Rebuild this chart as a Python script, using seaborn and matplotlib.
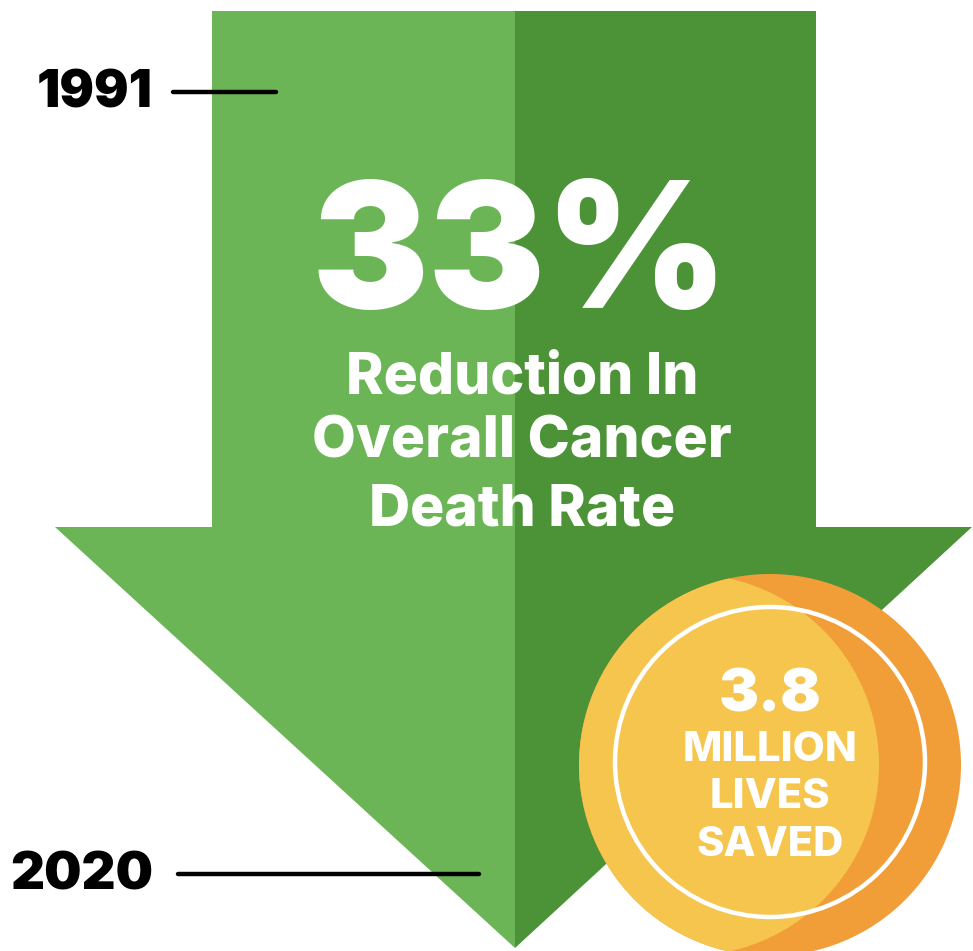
import matplotlib
matplotlib.use("Agg")
import matplotlib.pyplot as plt
from matplotlib.patches import Polygon, Circle
import seaborn as sns
import pandas as pd

# Headline figures
reduction_pct = 33
lives_saved_millions = 3.8
years = [1991, 2020]
headline_lines = ["Reduction In", "Overall Cancer", "Death Rate"]
coin_lines = ["MILLION", "LIVES", "SAVED"]

LIGHT_GREEN = "#6BB556"
DARK_GREEN = "#4C9338"
YELLOW = "#F6C54E"
ORANGE = "#F19E38"

sns.set_theme(style="white")
plt.rcParams["font.family"] = ["Inter", "DejaVu Sans"]

W, H = 973, 951
fig = plt.figure(figsize=(W / 100, H / 100), dpi=100)
ax = fig.add_axes([0, 0, 1, 1])

# Downward arrow: left (light) and right (dark) halves
mid_x, top_y, wing_y, tip_y = 515, 11, 527, 948
shaft_l, shaft_r = 212, 816
wing_l, wing_r = 55, 972
left_half = [(shaft_l, top_y), (mid_x, top_y), (mid_x, tip_y),
             (wing_l, wing_y), (shaft_l, wing_y)]
right_half = [(mid_x, top_y), (shaft_r, top_y), (shaft_r, wing_y),
              (wing_r, wing_y), (mid_x, tip_y)]
ax.add_patch(Polygon(left_half, closed=True, fc=LIGHT_GREEN, ec="none", zorder=1))
ax.add_patch(Polygon(right_half, closed=True, fc=DARK_GREEN, ec="none", zorder=1))

# Headline text
ax.text(520, 308, f"{reduction_pct}%", color="white", fontsize=126,
        fontweight=900, ha="center", va="baseline", zorder=3)
for line, base in zip(headline_lines, [393, 458, 525]):
    ax.text(522, base, line, color="white", fontsize=41,
            fontweight=800, ha="center", va="baseline", zorder=3)

# Coin
cx, cy, r = 770, 765, 191
outer = Circle((cx, cy), r, fc=ORANGE, ec="none", zorder=4)
ax.add_patch(outer)
face = Circle((cx - 82, cy), r, fc=YELLOW, ec="none", zorder=5)
ax.add_patch(face)
face.set_clip_path(outer)
ax.add_patch(Circle((cx, cy - 3), 155, fc="none", ec="white", lw=3.2, zorder=6))
ax.text(cx, 712, f"{lives_saved_millions}", color="white", fontsize=43,
        fontweight=900, ha="center", va="baseline", zorder=7)
for line, base in zip(coin_lines, [761, 808, 856]):
    ax.text(cx, base, line, color="white", fontsize=30,
            fontweight=800, ha="center", va="baseline", zorder=7)

# Year markers with leader lines
markers = pd.DataFrame({
    "year": [years[0], years[0], years[1], years[1]],
    "x": [173, 276, 178, 479],
    "y": [92, 92, 874, 874],
})
sns.lineplot(data=markers, x="x", y="y", units="year", estimator=None,
             color="black", lw=3.2, ax=ax, zorder=8, legend=False)
ax.text(153, 107, str(years[0]), color="black", fontsize=37, fontweight=900,
        ha="right", va="baseline", zorder=8)
ax.text(153, 890, str(years[1]), color="black", fontsize=38, fontweight=900,
        ha="right", va="baseline", zorder=8)

ax.set_xlim(0, W)
ax.set_ylim(H, 0)
ax.set_axis_off()

fig.savefig("out.png", dpi=100, facecolor="white")
